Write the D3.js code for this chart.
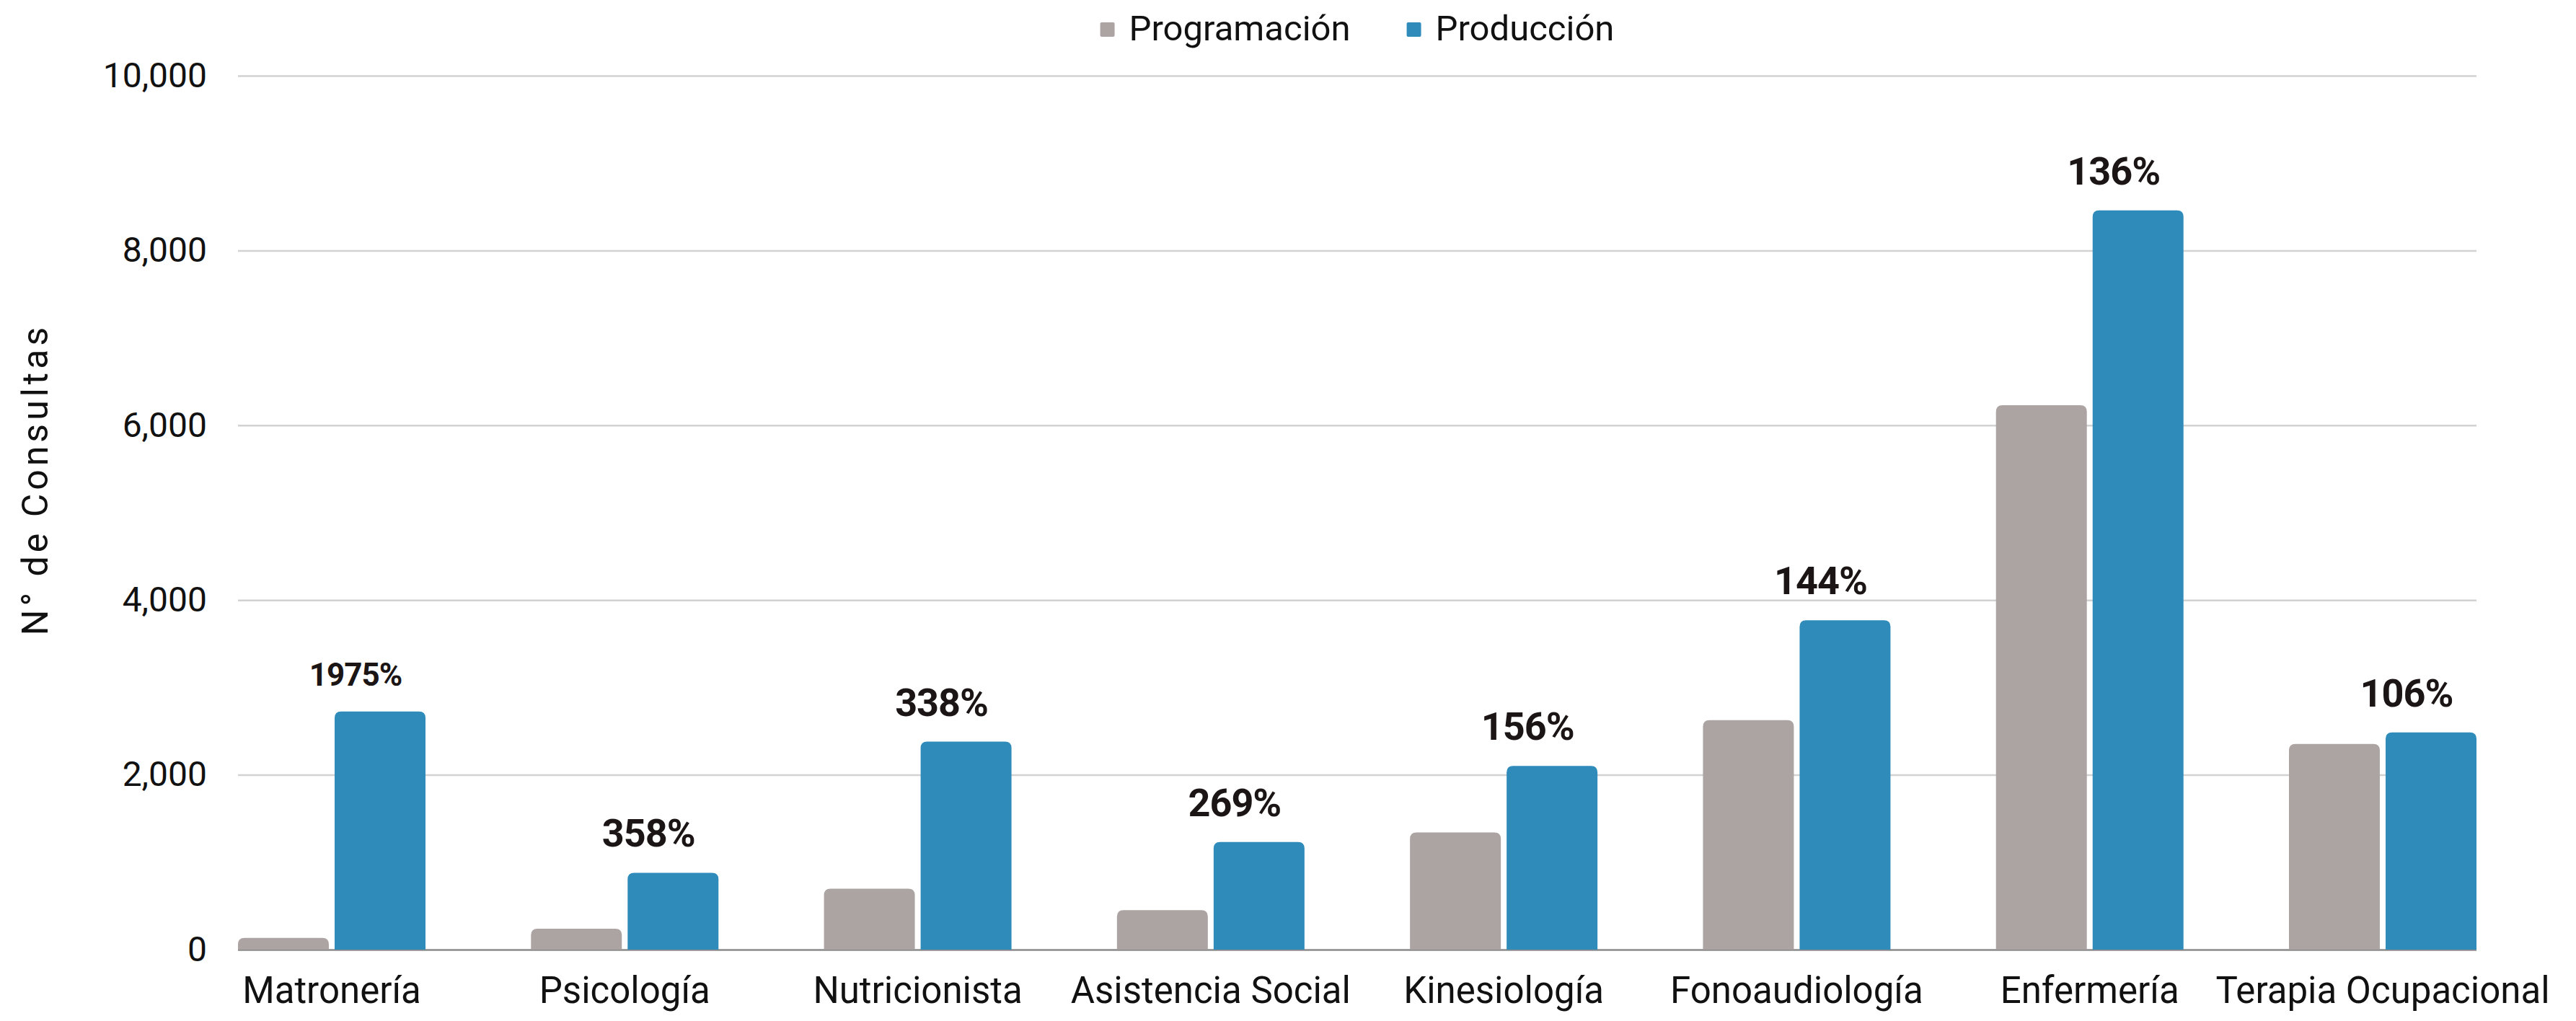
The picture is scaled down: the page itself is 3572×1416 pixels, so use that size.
<!DOCTYPE html>
<html>

<head>
  <title>Programación vs Producción</title>
  <script src="https://d3js.org/d3.v7.min.js" charset="utf-8"></script>
  <style type="text/css">
    body {
      margin: 0;
      background: #ffffff;
    }

    text {
      font-family: Roboto, "Open Sans", sans-serif;
    }
  </style>
</head>

<body>
  <div id="chart"></div>
  <script>
    // data
    var categories = ['Matronería', 'Psicología', 'Nutricionista', 'Asistencia Social',
      'Kinesiología', 'Fonoaudiología', 'Enfermería', 'Terapia Ocupacional'];
    var seriesNames = ['Programación', 'Producción'];
    var programacion = [135, 240, 697, 452, 1341, 2625, 6229, 2353];
    var produccion = [2725, 879, 2380, 1231, 2101, 3768, 8460, 2485];
    var pctLabels = ['1975%', '358%', '338%', '269%', '156%', '144%', '136%', '106%'];
    var yTicks = [0, 2000, 4000, 6000, 8000, 10000];
    var colors = ['#aca4a2', '#2e8bba'];

    var width = 3572;
    var height = 1416;
    var plotLeft = 330;
    var plotRight = 3434;
    var plotTop = 105;
    var plotBottom = 1317;
    var groupWidth = 260;

    var svg = d3.select("#chart").append("svg")
      .attr("width", width)
      .attr("height", height);

    // band step is wider than plot/8, bars sit flush with plot edges
    var step = (plotRight - plotLeft - groupWidth) / (categories.length - 1);
    var bandPad = (step - groupWidth) / 2;
    var x = d3.scaleBand()
      .domain(categories)
      .range([plotLeft - bandPad, plotRight + bandPad])
      .padding(0);
    var xSub = d3.scaleBand()
      .domain(seriesNames)
      .range([bandPad, bandPad + groupWidth])
      .paddingInner(0.06);
    var y = d3.scaleLinear()
      .domain([0, 10000])
      .range([plotBottom, plotTop]);

    // gridlines + tick labels
    var yAxis = svg.append("g")
      .attr("transform", "translate(" + plotLeft + ",0)")
      .call(d3.axisLeft(y)
        .tickValues(yTicks)
        .tickSize(-(plotRight - plotLeft))
        .tickPadding(43)
        .tickFormat(d3.format(",")));
    yAxis.select(".domain").remove();
    yAxis.selectAll(".tick line")
      .attr("stroke", function(d) { return d == 0 ? "#8a8a8a" : "#d2d2d2"; })
      .attr("stroke-width", 2.5);
    yAxis.selectAll(".tick text")
      .attr("fill", "#111")
      .style("font-size", "48px")
      .style("font-family", "Roboto");

    // y axis title
    svg.append("text")
      .attr("transform", "translate(66," + 665 + ") rotate(-90)")
      .attr("text-anchor", "middle")
      .style("font-size", "50px")
      .style("letter-spacing", "5px")
      .attr("fill", "#111")
      .text("N° de Consultas");

    function topRounded(x0, y0, w, h, r) {
      if (h < r) r = Math.max(h, 0);
      return "M" + x0 + "," + (y0 + h) +
        "V" + (y0 + r) +
        "Q" + x0 + "," + y0 + " " + (x0 + r) + "," + y0 +
        "H" + (x0 + w - r) +
        "Q" + (x0 + w) + "," + y0 + " " + (x0 + w) + "," + (y0 + r) +
        "V" + (y0 + h) + "Z";
    }

    var rows = categories.map(function(c, i) {
      return { cat: c, vals: [programacion[i], produccion[i]], pct: pctLabels[i] };
    });

    var groups = svg.append("g").selectAll("g")
      .data(rows)
      .enter().append("g")
      .attr("transform", function(d) { return "translate(" + x(d.cat) + ",0)"; });

    groups.selectAll("path")
      .data(function(d) {
        return d.vals.map(function(v, j) { return { key: seriesNames[j], value: v, j: j }; });
      })
      .enter().append("path")
      .attr("d", function(d) {
        return topRounded(xSub(d.key), y(d.value), xSub.bandwidth(), plotBottom - y(d.value), 9);
      })
      .attr("fill", function(d) { return colors[d.j]; });

    // percentage labels above the Producción bar
    groups.append("text")
      .attr("x", function(d) { return xSub('Producción') + xSub.bandwidth() / 2 - 34; })
      .attr("y", function(d) { return y(d.vals[1]) - 36; })
      .attr("text-anchor", "middle")
      .attr("fill", "#1b1515")
      .style("font-weight", "bold")
      .style("font-size", function(d) { return d.pct.length > 4 ? "44px" : "54px"; })
      .style("letter-spacing", "-1px")
      .text(function(d) { return d.pct; });

    // category labels
    svg.append("g").selectAll("text")
      .data(categories)
      .enter().append("text")
      .attr("x", function(d) { return x(d) + x.bandwidth() / 2; })
      .attr("y", 1391)
      .attr("text-anchor", "middle")
      .attr("fill", "#111")
      .style("font-size", "51px")
      .text(function(d) { return d; });

    // legend, centred over the plot
    var legend = svg.append("g");
    var lx = 0;
    seriesNames.forEach(function(name, i) {
      var item = legend.append("g").attr("transform", "translate(" + lx + ",0)");
      item.append("rect")
        .attr("x", 0)
        .attr("y", 31)
        .attr("width", 20)
        .attr("height", 20)
        .attr("rx", 2)
        .attr("fill", colors[i]);
      var t = item.append("text")
        .attr("x", 40)
        .attr("y", 56)
        .attr("fill", "#111")
        .style("font-size", "49px")
        .text(name);
      lx += 40 + t.node().getComputedTextLength() + 78;
    });
    var lw = legend.node().getBBox().width;
    legend.attr("transform", "translate(" + ((plotLeft + plotRight) / 2 - lw / 2) + ",0)");
  </script>
</body>

</html>
